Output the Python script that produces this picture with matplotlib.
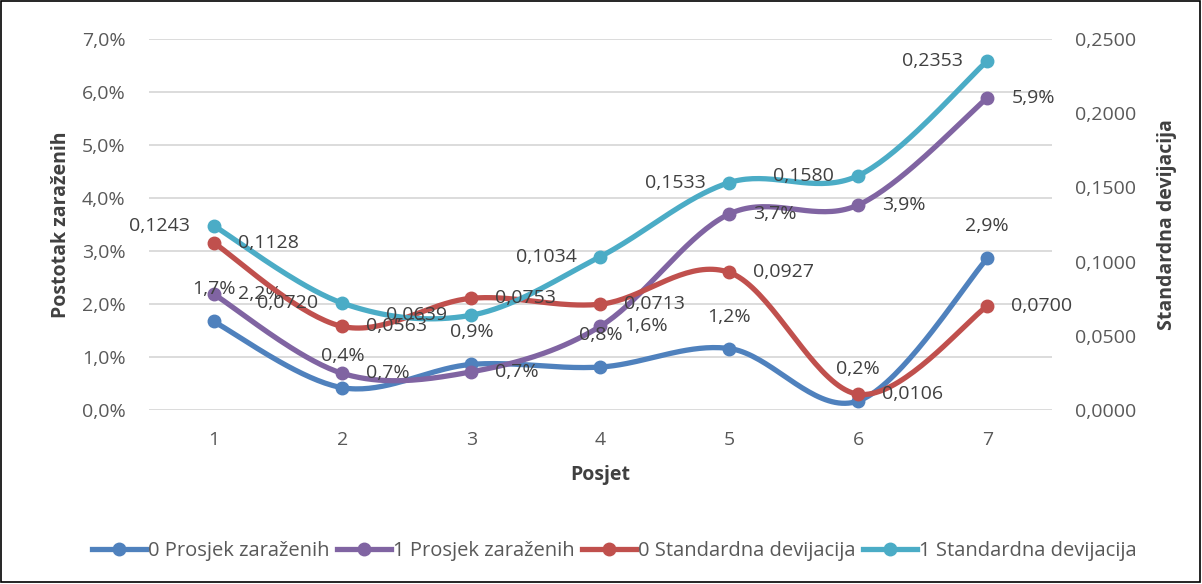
import numpy as np
import matplotlib
matplotlib.use('Agg')
import matplotlib.pyplot as plt
from matplotlib.ticker import FuncFormatter, MultipleLocator
from matplotlib.patches import Rectangle

plt.rcParams['font.family'] = ['Open Sans', 'DejaVu Sans']

# posjeti i vrijednosti
posjet = [1, 2, 3, 4, 5, 6, 7]
prosjek_0 = [1.67, 0.42, 0.86, 0.81, 1.16, 0.17, 2.86]   # %
prosjek_1 = [2.19, 0.69, 0.72, 1.58, 3.70, 3.87, 5.89]   # %
std_0 = [0.1128, 0.0563, 0.0753, 0.0713, 0.0927, 0.0106, 0.0700]
std_1 = [0.1243, 0.0720, 0.0639, 0.1034, 0.1533, 0.1580, 0.2353]

c_blue = '#4F81BD'
c_purple = '#8064A2'
c_red = '#C0504D'
c_cyan = '#4BACC6'
txt = '#404040'
fs = 14


def smooth(x, y, n=40):
    # bezier krivulja kroz tocke (kao "smoothed line" u Excelu)
    x = np.asarray(x, float)
    y = np.asarray(y, float)
    px = np.concatenate([[x[0]], x, [x[-1]]])
    py = np.concatenate([[y[0]], y, [y[-1]]])
    t = np.linspace(0, 1, n)
    xs, ys = [], []
    for i in range(1, len(px) - 2):
        p0 = np.array([px[i], py[i]])
        p3 = np.array([px[i + 1], py[i + 1]])
        p1 = p0 + (np.array([px[i + 1], py[i + 1]]) - np.array([px[i - 1], py[i - 1]])) / 6
        p2 = p3 - (np.array([px[i + 2], py[i + 2]]) - np.array([px[i], py[i]])) / 6
        b = ((1 - t) ** 3)[:, None] * p0 + (3 * (1 - t) ** 2 * t)[:, None] * p1 \
            + (3 * (1 - t) * t ** 2)[:, None] * p2 + (t ** 3)[:, None] * p3
        xs.append(b[:, 0])
        ys.append(b[:, 1])
    return np.concatenate(xs), np.concatenate(ys)


def comma(v, dec):
    return f'{v:.{dec}f}'.replace('.', ',')


fig = plt.figure(figsize=(12.02, 5.84), dpi=100)
ax = fig.add_axes([0.124, 0.298, 0.751, 0.635])
ax2 = ax.twinx()

lw = 3.8
ms = 9
series = [
    (ax, prosjek_0, c_blue, '0 Prosjek zaraženih'),
    (ax, prosjek_1, c_purple, '1 Prosjek zaraženih'),
    (ax2, std_0, c_red, '0 Standardna devijacija'),
    (ax2, std_1, c_cyan, '1 Standardna devijacija'),
]
handles = []
for a, vals, col, name in series:
    sx, sy = smooth(posjet, vals)
    a.plot(sx, sy, color=col, lw=lw, solid_capstyle='round', zorder=3)
    a.plot(posjet, vals, 'o', color=col, ms=ms, zorder=4)
    h, = a.plot([], [], color=col, lw=lw, marker='o', ms=ms, label=name)
    handles.append(h)

# oznake vrijednosti
for x, v in zip(posjet, prosjek_0):
    ax.annotate(comma(v, 1) + '%', (x, v), xytext=(0, 32), textcoords='offset pixels',
                ha='center', va='center', fontsize=fs, color=txt, zorder=5)
for x, v in zip(posjet, prosjek_1):
    ax.annotate(comma(v, 1) + '%', (x, v), xytext=(24, 0), textcoords='offset pixels',
                ha='left', va='center', fontsize=fs, color=txt, zorder=5)
for x, v in zip(posjet, std_0):
    ax2.annotate(comma(v, 4), (x, v), xytext=(24, 0), textcoords='offset pixels',
                 ha='left', va='center', fontsize=fs, color=txt, zorder=5)
for x, v in zip(posjet, std_1):
    ax2.annotate(comma(v, 4), (x, v), xytext=(-24, 0), textcoords='offset pixels',
                 ha='right', va='center', fontsize=fs, color=txt, zorder=5)

ax.set_xlim(0.5, 7.5)
ax.set_ylim(0, 7)
ax2.set_ylim(0, 0.25)
ax.set_xticks(posjet)
ax.yaxis.set_major_locator(MultipleLocator(1))
ax2.yaxis.set_major_locator(MultipleLocator(0.05))
ax.yaxis.set_major_formatter(FuncFormatter(lambda v, p: comma(v, 1) + '%'))
ax2.yaxis.set_major_formatter(FuncFormatter(lambda v, p: comma(v, 4)))
ax.grid(axis='y', color='#d9d9d9', lw=1.3, zorder=0)
ax.set_axisbelow(True)

for a in (ax, ax2):
    for s in a.spines.values():
        s.set_visible(False)
    a.tick_params(length=0, labelsize=fs, colors='#595959')
ax.tick_params(axis='y', pad=17)
ax2.tick_params(axis='y', pad=17)
ax.tick_params(axis='x', pad=15)

ax.set_xlabel('Posjet', fontsize=fs, fontweight='bold', color=txt, labelpad=12)
ax.set_ylabel('Postotak zaraženih', fontsize=fs, fontweight='bold', color=txt, labelpad=8)
ax2.set_ylabel('Standardna devijacija', fontsize=fs, fontweight='bold', color=txt, labelpad=15)

fig.legend(handles=handles, loc='center', bbox_to_anchor=(0.511, 0.057), ncol=4,
           frameon=False, fontsize=14.5, labelcolor='#595959', handlelength=2.7,
           handletextpad=0.1, columnspacing=0.35)

fig.add_artist(Rectangle((0.001, 0.003), 0.997, 0.995, transform=fig.transFigure,
                         fill=False, edgecolor='black', lw=1.2))

fig.savefig('out.png', dpi=100)
